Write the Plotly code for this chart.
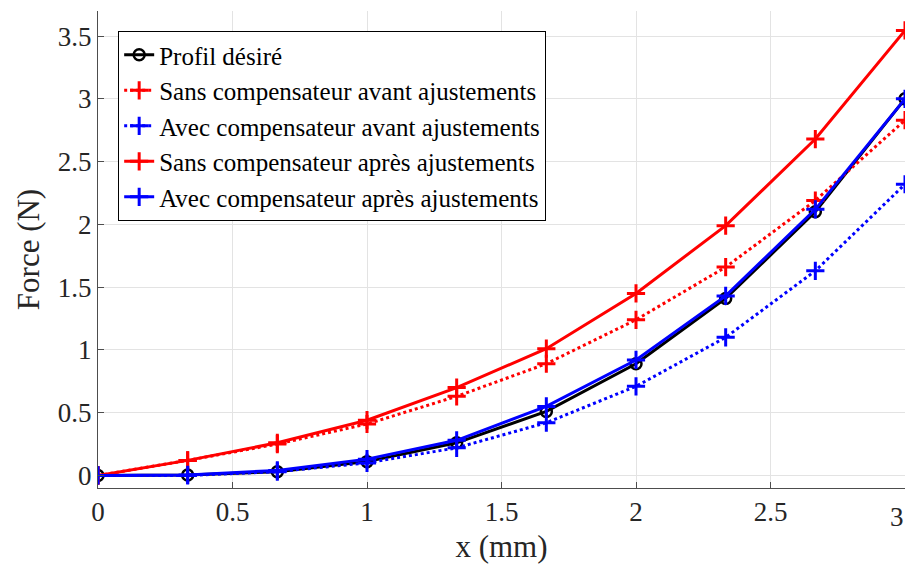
import plotly.graph_objects as go

x = [0, 1/3, 2/3, 1, 4/3, 5/3, 2, 7/3, 8/3, 3]
profil = [0, 0.004, 0.03, 0.11, 0.26, 0.51, 0.89, 1.41, 2.10, 3.0]
sans_avant = [0, 0.12, 0.25, 0.41, 0.63, 0.89, 1.24, 1.66, 2.19, 2.83]
avec_avant = [0, 0.0, 0.03, 0.10, 0.22, 0.42, 0.71, 1.10, 1.63, 2.32]
sans_apres = [0, 0.12, 0.26, 0.44, 0.70, 1.01, 1.45, 1.99, 2.68, 3.545]
avec_apres = [0, 0.004, 0.04, 0.13, 0.28, 0.55, 0.92, 1.43, 2.12, 3.0]

names = ["Profil désiré",
         "Sans compensateur avant ajustements",
         "Avec compensateur avant ajustements",
         "Sans compensateur après ajustements",
         "Avec compensateur après ajustements"]

xticks = [0, 0.5, 1, 1.5, 2, 2.5, 3]
xticklabels = ["0", "0.5", "1", "1.5", "2", "2.5", "3"]
yticks = [0, 0.5, 1, 1.5, 2, 2.5, 3, 3.5]
yticklabels = ["0", "0.5", "1", "1.5", "2", "2.5", "3", "3.5"]

FONT = "Liberation Serif"
TXT = "#262626"
fig = go.Figure()

fig.add_trace(go.Scatter(x=x, y=profil, name=names[0], mode="lines+markers",
                         line=dict(color="black", width=3),
                         marker=dict(symbol="circle-open", size=11, color="black",
                                     line=dict(width=2.5, color="black"))))
styles = [(sans_avant, "red", "dot"), (avec_avant, "blue", "dot"),
          (sans_apres, "red", "solid"), (avec_apres, "blue", "solid")]
for (ys, c, d), n in zip(styles, names[1:]):
    fig.add_trace(go.Scatter(x=x, y=ys, name=n, mode="lines+markers",
                             line=dict(color=c, width=3, dash=d),
                             marker=dict(symbol="cross-thin", size=13, color=c,
                                         line=dict(width=3, color=c))))

axis_common = dict(showgrid=True, gridcolor="#e3e3e3", gridwidth=1,
                   showline=True, linecolor="#4d4d4d", linewidth=1,
                   ticks="inside", ticklen=6, tickcolor="#4d4d4d",
                   zeroline=False, automargin=False,
                   tickfont=dict(family=FONT, size=27, color=TXT))

fig.update_xaxes(range=[0, 3], tickvals=xticks, ticktext=xticklabels,
                 title=dict(text="x (mm)", font=dict(family=FONT, size=31, color=TXT), standoff=8),
                 **axis_common)
fig.update_yaxes(range=[-0.1, 3.7], tickvals=yticks, ticktext=yticklabels,
                 title=dict(text="Force (N)", font=dict(family=FONT, size=31, color=TXT), standoff=8),
                 **axis_common)

# last x tick label sits at the right edge of the figure
fig.add_annotation(x=xticks[-1], xref="x", y=0, yref="paper", text=xticklabels[-1],
                   showarrow=False, xanchor="right", yanchor="top", yshift=-12, xshift=1,
                   font=dict(family=FONT, size=27, color=TXT))

fig.update_layout(width=907, height=567, margin=dict(l=98, r=2, t=11, b=79),
                  plot_bgcolor="white", paper_bgcolor="white",
                  legend=dict(x=0.025, y=0.958, xanchor="left", yanchor="top",
                              bgcolor="white", bordercolor="black", borderwidth=1,
                              font=dict(family=FONT, size=25, color="black"),
                              tracegroupgap=0, itemwidth=30),
                  font=dict(family=FONT))

fig.write_html("out.html", config={"displayModeBar": False},
               post_script="document.body.style.margin='0';document.body.style.overflow='hidden';")
